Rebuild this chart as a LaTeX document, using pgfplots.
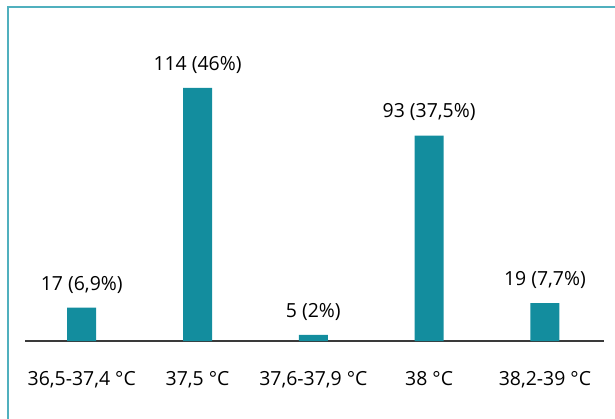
\documentclass[border=0pt]{standalone}
\usepackage{pgfplots}
\pgfplotsset{compat=1.18}
\usepackage{fontspec}
\setmainfont{Open Sans}
\definecolor{barteal}{RGB}{19,141,158}
\definecolor{frame}{RGB}{80,176,190}
\definecolor{axisgray}{RGB}{58,58,58}
\begin{document}
\begin{tikzpicture}[x=1bp,y=1bp]
\useasboundingbox (0,0) rectangle (615,418);
% frame, cut by the page on the right and at the bottom
\draw[frame, line width=2bp] (7.8,-20) -- (7.8,410.5) -- (640,410.5);
\begin{axis}[
    at={(25bp,77bp)},
    anchor=south west,
    scale only axis,
    width=579bp,
    height=331bp,
    xmin=-0.49, xmax=4.51,
    ymin=2.3, ymax=148.4,
    axis y line=none,
    axis x line*=bottom,
    x axis line style={draw=axisgray, line width=1.6bp, -},
    xtick=data,
    xticklabels={{36,5-37,4 °C}, {37,5 °C}, {37,6-37,9 °C}, {38 °C}, {38,2-39 °C}},
    xticklabel style={font=\fontsize{19.5}{21}\selectfont, text=black, yshift=-27bp},
    major tick length=0pt,
    ybar,
    bar width=29bp,
    nodes near coords,
    point meta=explicit symbolic,
    every node near coord/.append style={font=\fontsize{19.5}{21}\selectfont, text=black, yshift=11bp},
]
\addplot[fill=barteal, draw=none] table[meta=label, col sep=semicolon] {
x;y;label
0;17;17 (6,9\%)
1;114;114 (46\%)
2;5;5 (2\%)
3;93;93 (37,5\%)
4;19;19 (7,7\%)
};
\end{axis}
\end{tikzpicture}
\end{document}
